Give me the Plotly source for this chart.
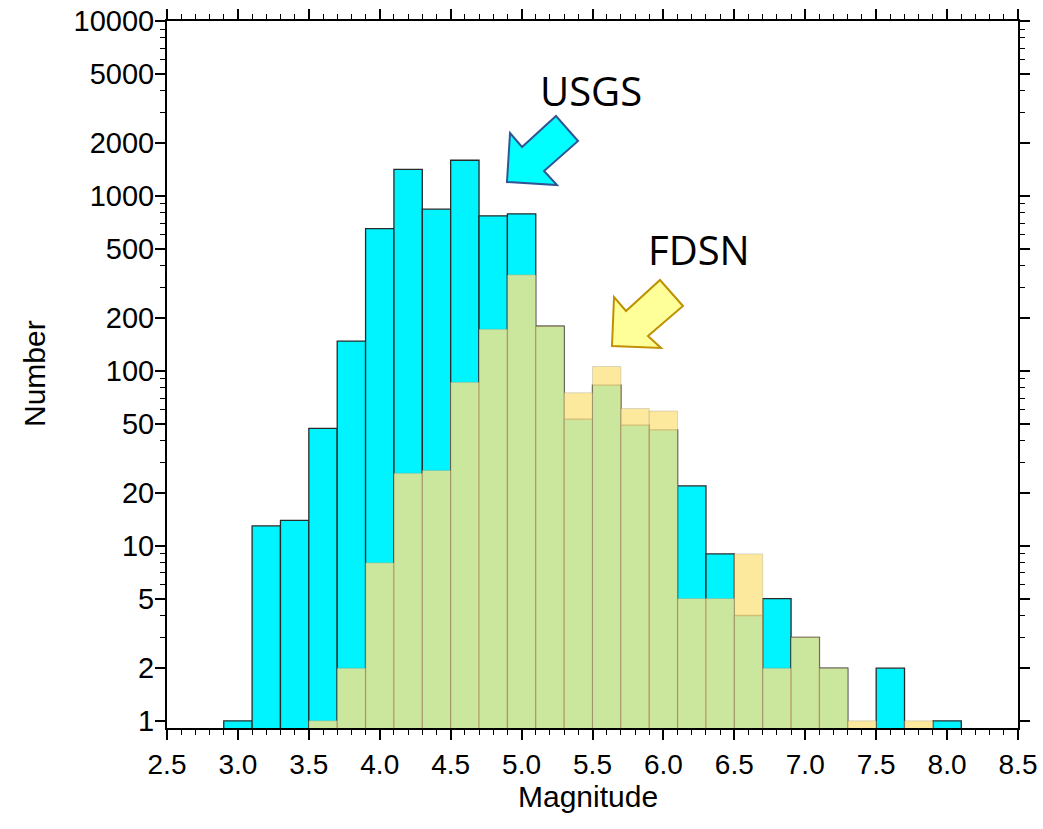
import plotly.graph_objects as go

# Bin centres (magnitude, 0.2-wide bins)
magnitude = [3.0, 3.2, 3.4, 3.6, 3.8, 4.0, 4.2, 4.4, 4.6, 4.8, 5.0, 5.2, 5.4,
             5.6, 5.8, 6.0, 6.2, 6.4, 6.6, 6.8, 7.0, 7.2, 7.4, 7.6, 7.8, 8.0]
usgs_counts = [1, 13, 14, 47, 148, 650, 1420, 840, 1600, 770, 790, 180, 53,
               83, 49, 46, 22, 9, 4, 5, 3, 2, 0, 2, 0, 1]
fdsn_counts = [0, 0, 0, 1, 2, 8, 26, 27, 86, 173, 354, 180, 75,
               106, 61, 59, 5, 5, 9, 2, 3, 2, 1, 0, 1, 0]

y_tick_values = [1, 2, 5, 10, 20, 50, 100, 200, 500, 1000, 2000, 5000, 10000]
y_tick_labels = [str(v) for v in y_tick_values]
x_tick_values = [2.5, 3.0, 3.5, 4.0, 4.5, 5.0, 5.5, 6.0, 6.5, 7.0, 7.5, 8.0, 8.5]
x_tick_labels = ["%.1f" % v for v in x_tick_values]

def nz(vals):
    return [v if v > 0 else None for v in vals]

minor_y = []
for dec in [1, 10, 100, 1000]:
    for m in [3, 4, 6, 7, 8, 9]:
        minor_y.append(m * dec)

fig = go.Figure()
fig.add_trace(go.Bar(
    x=magnitude, y=nz(usgs_counts), width=0.2, name="USGS",
    marker=dict(color="#00f4ff", line=dict(color="#2a2a2a", width=1.3)),
))
fig.add_trace(go.Bar(
    x=magnitude, y=nz(fdsn_counts), width=0.2, name="FDSN",
    marker=dict(color="rgba(252,228,132,0.8)", line=dict(color="rgba(120,120,120,0.25)", width=1)),
))

W, H = 1043, 829
L, R, T, B = 167, 25, 21, 101
pw, ph = W - L - R, H - T - B

def px(x, y):
    return (x - L) / pw, (H - B - y) / ph

def arrow_path(pts):
    s = ""
    for i, (x, y) in enumerate(pts):
        u, v = px(x, y)
        s += ("M" if i == 0 else "L") + f"{u:.4f},{v:.4f} "
    return s + "Z"

usgs_arrow = [(507, 182), (510, 133), (522, 147), (556, 116), (578, 141), (544, 171), (557, 185)]
fdsn_arrow = [(612, 346), (614, 297), (626, 311), (660, 280), (683, 306), (648, 336), (661, 348)]

def label(text, x, y, size, family, angle=0):
    u, v = px(x, y)
    return dict(text=text, xref="paper", yref="paper", x=u, y=v, xanchor="center", yanchor="middle",
                showarrow=False, textangle=angle, font=dict(family=family, size=size, color="black"))

fig.update_layout(
    width=W, height=H,
    margin=dict(l=L, r=R, t=T, b=B),
    barmode="overlay",
    showlegend=False,
    plot_bgcolor="white", paper_bgcolor="white",
    font=dict(family="Liberation Sans, Arial, sans-serif", color="black"),
    shapes=[
        dict(type="path", xref="paper", yref="paper", path=arrow_path(usgs_arrow),
             fillcolor="#00ffff", line=dict(color="#2f5597", width=2)),
        dict(type="path", xref="paper", yref="paper", path=arrow_path(fdsn_arrow),
             fillcolor="#ffff99", line=dict(color="#bf9000", width=2)),
    ],
    annotations=[
        label("USGS", 591, 91, 40, "Open Sans"),
        label("FDSN", 699, 249, 40, "Open Sans"),
        label("Magnitude", 588, 796, 30, "Liberation Sans"),
        label("Number", 34, 374, 30, "Liberation Sans", angle=-90),
    ],
)

fig.update_xaxes(
    range=[2.5, 8.5], tickmode="array", tickvals=x_tick_values, ticktext=x_tick_labels,
    ticks="outside", ticklen=10, tickwidth=1.5, tickcolor="black",
    minor=dict(dtick=0.1, tick0=2.5, ticks="outside", ticklen=5, tickwidth=1, tickcolor="black", showgrid=False),
    showline=True, linewidth=2, linecolor="black", mirror="allticks",
    showgrid=False, zeroline=False, automargin=False,
    tickfont=dict(size=28),
)
fig.update_yaxes(
    type="log", range=[-0.041, 4.0], tickmode="array", tickvals=y_tick_values, ticktext=y_tick_labels,
    ticks="outside", ticklen=10, tickwidth=1.5, tickcolor="black",
    minor=dict(tickmode="array", tickvals=minor_y, ticks="outside", ticklen=5, tickwidth=1, tickcolor="black", showgrid=False),
    showline=True, linewidth=2, linecolor="black", mirror="allticks",
    showgrid=False, zeroline=False, automargin=False,
    tickfont=dict(size=29), ticklabelstandoff=-5,
)

fig.write_html("out.html")
